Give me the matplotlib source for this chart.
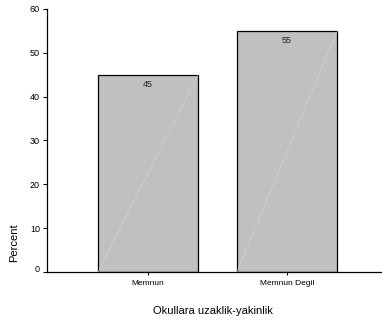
import matplotlib
matplotlib.use("Agg")
import matplotlib.pyplot as plt
import matplotlib.transforms as mtransforms

categories = ["Memnun", "Memnun Degil"]
percents = [45, 55]
y_ticks = [0, 10, 20, 30, 40, 50, 60]

plt.rcParams['font.family'] = ['Liberation Sans', 'DejaVu Sans']

fig = plt.figure(figsize=(3.82, 3.24), dpi=100)
ax = fig.add_axes([47/382, 52/324, 335/382, 263/324])

x = list(range(len(categories)))
width = 0.72
bars = ax.bar(x, percents, width=width, color="#c0c0c0", edgecolor="black",
              linewidth=0.9, zorder=2)

# faint diagonal highlight across each bar
for xi, v in zip(x, percents):
    ax.plot([xi - width/2, xi + width/2], [0, v], color="#dadada",
            linewidth=0.5, linestyle=(0, (2, 1)), zorder=3)
    ax.text(xi, v - 1.2, str(v), ha="center", va="top", fontsize=6.5,
            color="#222222", zorder=4)

ax.set_xlim(-0.727, 0.683 + 1)
ax.set_ylim(0, 60)
ax.set_yticks(y_ticks)
ax.set_xticks(x)
ax.set_xticklabels(categories, fontsize=6)
ax.tick_params(axis="y", labelsize=6.5, length=3, width=0.8, pad=2)
ax.tick_params(axis="x", length=2.5, width=0.8, pad=3)
for s in ["top", "right"]:
    ax.spines[s].set_visible(False)
ax.spines["left"].set_linewidth(0.9)
ax.spines["bottom"].set_linewidth(0.9)

# lift the zero label slightly above the baseline
zero_label = ax.get_yticklabels()[0]
zero_label.set_transform(zero_label.get_transform() +
                         mtransforms.ScaledTranslation(0, 4/100, fig.dpi_scale_trans))

fig.text(213/382, 1 - 311/324, "Okullara uzaklik-yakinlik", ha="center",
         va="center", fontsize=8)
fig.text(14/382, 1 - 243/324, "Percent", ha="center", va="center",
         rotation=90, fontsize=8)

fig.savefig("out.png", dpi=100)
